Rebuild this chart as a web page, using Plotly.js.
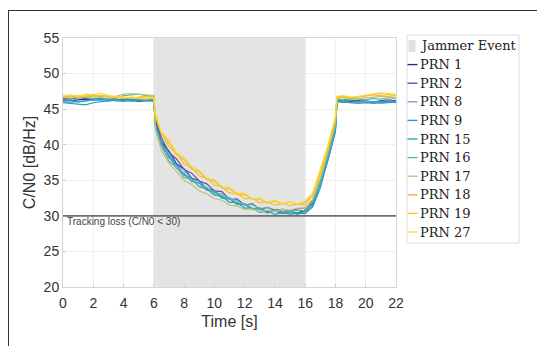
<!DOCTYPE html>
<html>
<head>
<meta charset="utf-8">
<script src="https://cdn.plot.ly/plotly-3.0.1.min.js"></script>
<style>
  html, body { margin: 0; padding: 0; background: #fff; }
  #wrap { position: relative; width: 537px; height: 346px; overflow: hidden; }
  #chart { position: absolute; left: 0; top: 0; width: 537px; height: 346px; }
  #frame { position: absolute; left: 8px; top: 10px; width: 600px; height: 400px;
           border-left: 1px solid #333; border-top: 1px solid #333; pointer-events: none; }
</style>
</head>
<body>
<div id="wrap"><div id="chart"></div><div id="frame"></div></div>
<script>
// ---- data ----
const time = [0,0.5,1,1.5,2,2.5,3,3.5,4,4.5,5,5.5,6,6.1,6.5,7,7.5,8,8.5,9,9.5,10,10.5,11,11.5,12,12.5,13,13.5,14,14.5,15,15.5,16,16.5,17,17.5,18,18.1,18.5,19,19.5,20,20.5,21,21.5,22];

const prn1  = [46.3,46.2,46.3,46.4,46.3,46.4,46.3,46.2,46.3,46.2,46.1,46.2,46.3,
               43.2,40.4,39.1,37.3,36.6,35.3,34.9,33.8,33.6,32.6,32.5,31.7,31.7,31.0,31.1,30.6,30.8,30.5,30.6,30.4,30.8,31.7,34.8,38.1,42.4,
               46.1,46.0,46.1,46.2,46.0,45.9,46.1,46.0,46.1];
const prn2  = [46.5,46.4,46.6,46.5,46.4,46.5,46.4,46.3,46.4,46.5,46.3,46.2,46.3,
               43.6,41.0,38.9,38.0,36.5,36.0,34.9,34.5,33.5,33.4,32.3,32.4,31.5,31.7,30.9,31.2,30.8,30.9,30.7,31.0,31.1,32.1,34.9,38.6,42.8,
               46.3,46.2,46.3,46.1,46.2,46.0,46.2,46.3,46.2];
const prn8  = [46.0,45.9,46.1,46.2,46.3,46.2,46.1,46.3,46.2,46.1,46.2,46.3,46.2,
               43.0,40.1,38.8,37.1,36.4,35.2,34.8,33.7,33.6,32.6,32.5,31.7,31.7,31.0,31.1,30.5,30.8,30.4,30.6,30.3,30.6,31.4,34.6,37.9,42.2,
               46.0,46.1,45.9,46.0,46.1,46.0,45.8,45.9,46.0];
const prn9  = [45.9,45.8,45.7,45.6,45.9,46.1,46.2,46.3,46.2,46.4,46.3,46.2,46.1,
               42.8,40.4,38.2,37.2,35.7,35.3,34.1,33.8,32.9,32.8,31.9,31.9,31.1,31.1,30.5,30.7,30.2,30.5,30.2,30.4,30.3,31.3,33.9,37.7,41.8,
               46.2,46.0,45.9,45.8,45.9,45.8,45.9,46.0,45.9];
const prn15 = [46.1,46.2,46.0,46.2,46.3,46.4,46.3,46.2,46.1,46.3,46.2,46.4,46.3,
               42.9,39.8,38.5,36.7,36.0,34.8,34.6,33.6,33.4,32.5,32.4,31.6,31.6,30.9,31.0,30.4,30.7,30.3,30.5,30.2,30.6,31.3,34.4,37.8,42.0,
               46.1,46.2,46.0,46.1,45.9,46.0,46.1,46.0,46.1];
const prn16 = [46.6,46.5,46.7,46.6,46.5,46.6,46.4,46.5,46.9,47.0,47.1,46.9,46.8,
               42.5,39.8,37.7,36.8,35.4,35.1,34.1,34.0,33.1,33.1,32.3,32.2,31.5,31.6,31.0,31.2,30.7,30.9,30.6,30.8,30.7,32.0,34.8,38.5,42.6,
               46.4,46.3,46.5,46.4,46.3,46.5,46.4,46.6,46.5];
const prn17 = [46.7,46.8,46.6,46.7,46.9,46.8,46.7,46.8,47.1,47.2,47.1,47.0,46.9,
               42.2,39.2,37.4,36.2,35.0,34.4,33.5,33.1,32.4,32.2,31.5,31.4,30.9,31.0,30.6,30.8,30.6,30.9,30.8,31.1,31.1,32.4,35.3,39.0,43.2,
               46.5,46.6,46.4,46.5,46.6,46.7,46.8,46.7,46.6];
const prn18 = [46.6,46.7,46.9,46.8,46.7,46.9,46.8,46.6,46.5,46.7,46.6,46.5,46.6,
               44.0,41.6,40.3,38.6,37.9,36.6,36.2,35.1,34.9,33.9,33.8,33.0,33.0,32.3,32.4,31.8,32.1,31.6,32.0,31.6,31.9,32.9,36.2,39.5,43.7,
               46.7,46.8,46.6,46.7,46.9,47.0,46.9,46.8,46.9];
const prn19 = [46.8,46.9,46.7,46.8,47.0,46.9,46.8,46.7,46.6,46.5,46.7,46.8,46.7,
               44.2,41.7,39.7,38.8,37.3,36.8,35.6,35.3,34.3,34.1,33.2,33.2,32.4,32.5,31.8,32.0,31.5,31.8,31.4,31.7,31.5,32.9,35.8,39.5,43.5,
               46.6,46.7,46.6,46.8,46.9,47.1,47.2,47.0,46.9];
const prn27 = [46.9,47.0,46.8,47.1,47.0,47.2,46.9,46.8,46.7,46.6,46.5,46.4,46.6,
               44.5,41.8,40.6,38.9,38.2,36.9,36.4,35.3,35.1,34.1,34.0,33.2,33.2,32.4,32.5,31.9,32.2,31.7,32.0,31.7,32.1,33.3,36.6,39.9,44.0,
               46.8,46.9,46.7,46.8,47.0,47.2,47.3,47.2,47.1];

const seriesNames = ["PRN 1","PRN 2","PRN 8","PRN 9","PRN 15","PRN 16","PRN 17","PRN 18","PRN 19","PRN 27"];
const seriesValues = [prn1,prn2,prn8,prn9,prn15,prn16,prn17,prn18,prn19,prn27];
const seriesColors = ["#2f2f7c","#5a56a6","#78a4d4","#2f95d8","#22aab6","#62b4a2","#b9c472","#f0b545","#f8c12a","#f6dc3a"];

const jammerStart = 6, jammerEnd = 16;
const jammerLabel = "Jammer Event";
const trackingThreshold = 30;
const trackingLabel = "Tracking loss (C/N0 < 30)";
const xTicks = [0,2,4,6,8,10,12,14,16,18,20,22];
const yTicks = [20,25,30,35,40,45,50,55];

// ---- geometry helpers (plot area in px) ----
const W = 537, H = 346;
const L = 63, R = 396, T = 38, B = 287;
const px = p => (p - L) / (R - L);
const py = q => (B - q) / (B - T);

const traces = [];
traces.push({
  x: [jammerStart, jammerEnd, jammerEnd, jammerStart, jammerStart],
  y: [yTicks[0], yTicks[0], yTicks[yTicks.length-1], yTicks[yTicks.length-1], yTicks[0]],
  type: "scatter", mode: "lines", fill: "toself", fillcolor: "#e4e4e4",
  line: {width: 0}, name: jammerLabel, showlegend: false, hoverinfo: "skip"
});
seriesValues.forEach((v, i) => {
  traces.push({
    x: time, y: v, type: "scatter", mode: "lines", name: seriesNames[i],
    line: {color: seriesColors[i], width: 1.2}, showlegend: false
  });
});

// custom legend (drawn in paper coordinates)
const legendRows = [jammerLabel].concat(seriesNames);
const rowY0 = 46, rowStep = 18.6;
const shapes = [
  {type: "line", xref: "x", yref: "y", x0: xTicks[0], x1: xTicks[xTicks.length-1],
   y0: trackingThreshold, y1: trackingThreshold, line: {color: "#6e6e6e", width: 1.6}},
  {type: "rect", xref: "paper", yref: "paper", x0: px(407), x1: px(519), y0: py(243), y1: py(35),
   line: {color: "#dddddd", width: 1}, fillcolor: "#ffffff", layer: "below"},
  {type: "rect", xref: "paper", yref: "paper", x0: px(408.5), x1: px(415.5), y0: py(rowY0+6), y1: py(rowY0-6),
   line: {width: 0}, fillcolor: "#e0e0e0"}
];
const annotations = [
  {xref: "x", yref: "y", x: 0.15, y: trackingThreshold, yshift: -6, text: trackingLabel, showarrow: false,
   xanchor: "left", yanchor: "middle", font: {family: "Liberation Sans, Arial", size: 10, color: "#444"}}
];
legendRows.forEach((name, i) => {
  const yc = rowY0 + i * rowStep;
  annotations.push({xref: "paper", yref: "paper", x: px(418), y: py(yc), text: name, showarrow: false,
    xanchor: "left", yanchor: "middle",
    font: {family: "DejaVu Serif, Liberation Serif, serif", size: 13, color: "#222"}});
  if (i > 0) {
    shapes.push({type: "line", xref: "paper", yref: "paper", x0: px(407.5), x1: px(417.5), y0: py(yc), y1: py(yc),
      line: {color: seriesColors[i-1], width: 1.4}});
  }
});

const axisFont = {family: "Liberation Sans, Arial, sans-serif", size: 14, color: "#333"};
const layout = {
  width: W, height: H,
  margin: {l: L, r: W - R, t: T, b: H - B, pad: 0},
  paper_bgcolor: "#ffffff", plot_bgcolor: "#ffffff",
  showlegend: false,
  xaxis: {
    range: [xTicks[0], xTicks[xTicks.length-1]], tickvals: xTicks, ticktext: xTicks.map(String),
    showgrid: true, gridcolor: "#f1f1f1", zeroline: false,
    showline: true, linecolor: "#d6d6d6", linewidth: 1, mirror: true,
    ticks: "inside", ticklen: 3, tickcolor: "#cfcfcf",
    tickfont: axisFont, ticklabelstandoff: 3,
    title: {text: "Time [s]", font: {family: "Liberation Sans, Arial, sans-serif", size: 16, color: "#333"}, standoff: 6}
  },
  yaxis: {
    range: [yTicks[0], yTicks[yTicks.length-1]], tickvals: yTicks, ticktext: yTicks.map(String),
    showgrid: true, gridcolor: "#f1f1f1", zeroline: false,
    showline: true, linecolor: "#d6d6d6", linewidth: 1, mirror: true,
    ticks: "inside", ticklen: 3, tickcolor: "#cfcfcf",
    tickfont: axisFont,
    title: {text: "C/N0 [dB/Hz]", font: {family: "Liberation Sans, Arial, sans-serif", size: 16, color: "#333"}, standoff: 4}
  },
  shapes: shapes,
  annotations: annotations
};

Plotly.newPlot("chart", traces, layout, {staticPlot: true, displayModeBar: false});
</script>
</body>
</html>
